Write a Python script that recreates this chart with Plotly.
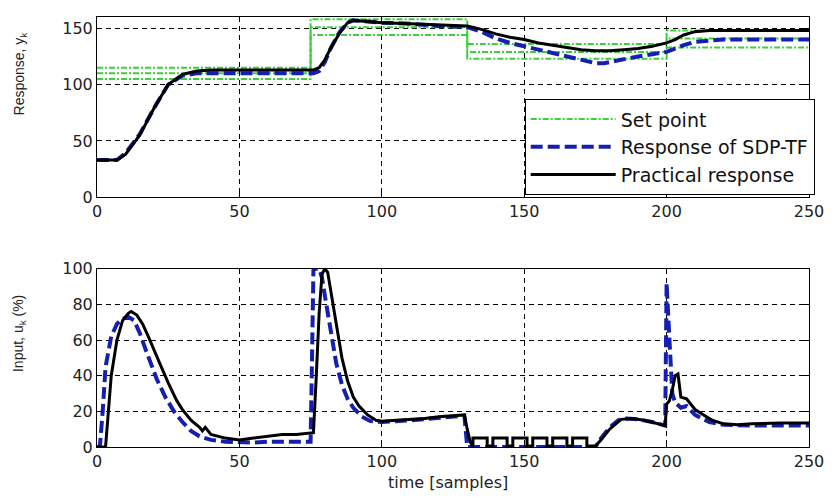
import plotly.graph_objects as go

# ---------------- data ----------------
t_sp = [0, 75, 130, 200, 250]
sp_upper = [115, 158, 136, 148, 148]
sp_mid = [110, 151, 129, 141, 141]
sp_lower = [105, 144, 123, 133, 133]

t_y_sdp = [0, 7, 10, 15, 20, 25, 30, 35, 40, 50, 60, 70, 76, 78, 80, 82, 85, 88, 90, 95, 100, 110,
           120, 130, 135, 140, 145, 150, 155, 160, 165, 170, 175, 178, 180, 185, 190, 195, 200, 203,
           206, 210, 215, 220, 230, 240, 250]
y_sdp = [33, 33, 39, 56, 79, 100, 108, 110, 110, 110, 110, 110, 110, 112, 120, 132, 146, 155, 157,
         156, 155, 154, 152, 151, 147, 141, 137, 134, 131, 128, 125, 122, 119, 119, 120, 123, 125,
         127, 129, 132, 135, 138, 139, 140, 140, 140, 140]

t_y_prac = [0, 7, 10, 15, 20, 25, 30, 35, 40, 50, 60, 70, 76, 78, 80, 82, 85, 88, 90, 95, 100, 110,
            120, 130, 135, 140, 145, 150, 155, 160, 165, 170, 175, 180, 185, 190, 195, 200, 203, 206,
            210, 215, 220, 230, 240, 250]
y_prac = [33, 33, 38, 55, 79, 100, 109, 112, 113, 113, 113, 113, 113, 115, 122, 132, 145, 155, 157,
          156, 155, 154, 153, 152, 149, 145, 142, 140, 137, 135, 133, 131, 130, 130, 131, 132, 134,
          137, 140, 144, 147, 148, 148, 148, 148, 148]

t_u_sdp = [0, 1, 2, 3, 5, 7, 9, 11, 13, 15, 17, 19, 21, 24, 27, 30, 33, 36, 40, 45, 50, 55, 60, 70,
           75, 75.5, 76, 78, 79, 80, 82, 84, 86, 88, 90, 93, 96, 100, 110, 120, 129, 130, 175, 177,
           180, 183, 186, 190, 195, 199.5, 200, 201, 202, 203, 205, 207, 210, 215, 220, 230, 240, 250]
u_sdp = [0, 0, 20, 45, 62, 69, 72, 73, 71, 64, 55, 46, 38, 28, 20, 14, 9, 6, 4, 3, 2.5, 2.5, 3, 3,
         3, 50, 100, 100, 95, 85, 65, 47, 35, 27, 22, 17, 14.5, 14, 15, 16.5, 17.5, 0, 0, 5,
         11, 15, 16, 15.5, 14, 12, 92, 60, 30, 25, 22, 23, 18, 14, 12.5, 12, 12, 12]

t_u_prac = [0, 3, 4, 5, 7, 9, 11, 12, 14, 16, 18, 20, 22, 25, 28, 30, 33, 36, 37, 38, 39, 40, 45, 50,
            55, 60, 65, 70, 75, 76, 77, 78, 79, 80, 81, 82, 84, 86, 88, 90, 92, 95, 98, 100, 105,
            110, 115, 120, 125, 129, 130, 131, 132, 132, 137, 137, 139, 139, 144, 144, 146, 146,
            151, 151, 153, 153, 158, 158, 160, 160, 165, 165, 167, 167, 172, 172, 175, 177, 180,
            184, 188, 192, 196, 199.5, 200, 201, 202, 203, 204, 205, 207, 210, 213, 216, 220, 225,
            230, 240, 250]
u_prac = [0, 0, 20, 40, 60, 71, 75, 76, 74, 69, 62, 55, 47, 36, 26, 21, 15, 11, 9, 11, 9, 7, 5, 4,
          5, 6, 7, 7, 7.5, 8, 40, 75, 97, 100, 98, 88, 68, 50, 37, 28, 23, 18, 15, 14.5, 15,
          15.5, 16, 17, 17.5, 18, 10, 3, 0.5, 5, 5, 0.5, 0.5, 5, 5, 0.5, 0.5, 5,
          5, 0.5, 0.5, 5, 5, 0.5, 0.5, 5, 5, 0.5, 0.5, 5, 5, 0.5, 0.5, 4, 10,
          15.5, 16, 15, 13.5, 12, 24, 26, 32, 40, 41, 28, 27, 21, 18, 15, 13, 12.5,
          13, 13.5, 13.5]

x_ticks = [0, 50, 100, 150, 200, 250]
y_ticks_top = [0, 50, 100, 150]
y_ticks_bot = [0, 20, 40, 60, 80, 100]

# ---------------- style ----------------
GREEN = "#3ccf3c"
BLUE = "#1620b0"
BLACK = "#000000"
sp_dash = "6px,2px,2px,2px"

fig = go.Figure()

for vals, show in [(sp_upper, False), (sp_mid, True), (sp_lower, False)]:
    fig.add_trace(go.Scatter(
        x=t_sp, y=vals, mode="lines", line=dict(color=GREEN, width=2, dash=sp_dash, shape="hv"),
        name="Set point", showlegend=show, legendgroup="sp", xaxis="x", yaxis="y"))

fig.add_trace(go.Scatter(x=t_y_sdp, y=y_sdp, mode="lines", name="Response of SDP-TF",
                         line=dict(color=BLUE, width=4, dash="12px,5px"), xaxis="x", yaxis="y"))
fig.add_trace(go.Scatter(x=t_y_prac, y=y_prac, mode="lines", name="Practical response",
                         line=dict(color=BLACK, width=3), xaxis="x", yaxis="y"))

fig.add_trace(go.Scatter(x=t_u_sdp, y=u_sdp, mode="lines", showlegend=False,
                         line=dict(color=BLUE, width=4, dash="12px,5px"), xaxis="x2", yaxis="y2"))
fig.add_trace(go.Scatter(x=t_u_prac, y=u_prac, mode="lines", showlegend=False,
                         line=dict(color=BLACK, width=3), xaxis="x2", yaxis="y2"))

tickfont = dict(family="DejaVu Sans", size=16, color="#222222")
common_axis = dict(showline=True, linecolor="black", linewidth=1, mirror="ticks",
                   ticks="inside", ticklen=5, tickcolor="black", tickfont=tickfont,
                   showgrid=True, gridcolor="black", gridwidth=1, griddash="5px,4px",
                   zeroline=False)

top_dom = [(447 - 192) / 439, 1.0]
bot_dom = [0.0, (447 - 265) / 439]

fig.update_layout(
    width=832, height=497,
    margin=dict(l=97, r=17, t=8, b=50),
    paper_bgcolor="white", plot_bgcolor="white",
    xaxis=dict(common_axis, domain=[0, 1], range=[0, 250], tickvals=x_ticks, anchor="y"),
    yaxis=dict(common_axis, domain=top_dom, range=[0, 160], tickvals=y_ticks_top, anchor="x"),
    xaxis2=dict(common_axis, domain=[0, 1], range=[0, 250], tickvals=x_ticks, anchor="y2"),
    yaxis2=dict(common_axis, domain=bot_dom, range=[0, 100], tickvals=y_ticks_bot, anchor="x2"),
    legend=dict(x=1.008, xanchor="right", y=(447 - 190) / 439, yanchor="bottom",
                bgcolor="white", bordercolor="black", borderwidth=1,
                font=dict(family="DejaVu Sans", size=19, color="#111111"),
                itemwidth=85, tracegroupgap=0),
    showlegend=True,
    annotations=[
        dict(text="Response, y<sub>k</sub>", x=(19 - 97) / 718, y=(447 - 66) / 439,
             xref="paper", yref="paper", xanchor="center", yanchor="middle",
             textangle=-90, showarrow=False,
             font=dict(family="Liberation Sans", size=14, color="#222222")),
        dict(text="Input, u<sub>k</sub> (%)", x=(19 - 97) / 718, y=(447 - 331) / 439,
             xref="paper", yref="paper", xanchor="center", yanchor="middle",
             textangle=-90, showarrow=False,
             font=dict(family="Liberation Sans", size=14, color="#222222")),
        dict(text="time [samples]", x=(451 - 97) / 718, y=(447 - 483) / 439,
             xref="paper", yref="paper", xanchor="center", yanchor="middle", showarrow=False,
             font=dict(family="DejaVu Sans", size=16, color="#222222")),
    ],
)

fig.write_html("out.html")
